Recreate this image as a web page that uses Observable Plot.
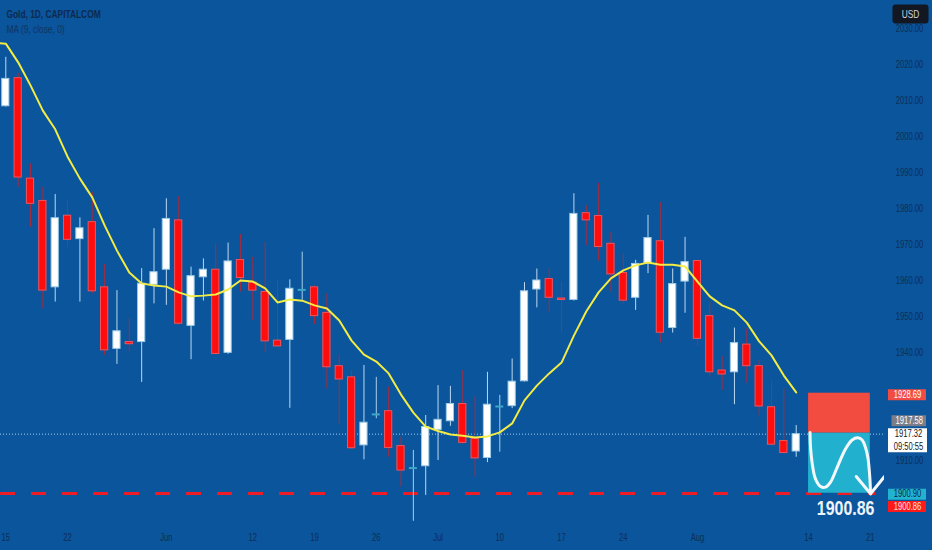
<!DOCTYPE html>
<html>
<head>
<meta charset="utf-8">
<script src="https://cdn.jsdelivr.net/npm/d3@7"></script>
<script src="https://cdn.jsdelivr.net/npm/@observablehq/plot@0.6"></script>
<style>
  html, body { margin: 0; padding: 0; background: #0a559b; }
  #chart { position: relative; width: 932px; height: 550px; background: #0a559b; overflow: hidden; }
  #chart svg { display: block; }
  #chart svg.price-scale { position: absolute; top: 0; right: 0; }
</style>
</head>
<body>
<div id="chart"></div>
<script>
// ---------------- DATA ----------------
const dates = [
  "2023-05-15","2023-05-16","2023-05-17","2023-05-18","2023-05-19",
  "2023-05-22","2023-05-23","2023-05-24","2023-05-25","2023-05-26",
  "2023-05-29","2023-05-30","2023-05-31","2023-06-01","2023-06-02",
  "2023-06-05","2023-06-06","2023-06-07","2023-06-08","2023-06-09",
  "2023-06-12","2023-06-13","2023-06-14","2023-06-15","2023-06-16",
  "2023-06-19","2023-06-20","2023-06-21","2023-06-22","2023-06-23",
  "2023-06-26","2023-06-27","2023-06-28","2023-06-29","2023-06-30",
  "2023-07-03","2023-07-04","2023-07-05","2023-07-06","2023-07-07",
  "2023-07-10","2023-07-11","2023-07-12","2023-07-13","2023-07-14",
  "2023-07-17","2023-07-18","2023-07-19","2023-07-20","2023-07-21",
  "2023-07-24","2023-07-25","2023-07-26","2023-07-27","2023-07-28",
  "2023-07-31","2023-08-01","2023-08-02","2023-08-03","2023-08-04",
  "2023-08-07","2023-08-08","2023-08-09","2023-08-10","2023-08-11"
];
const open = [
  2008.4,2016.2,1988.3,1982.1,1958.1, 1978.0,1971.5,1976.2,1958.1,1941.0,
  1942.9,1942.9,1958.8,1963.0,1976.7, 1947.4,1960.9,1963.0,1939.9,1965.7,
  1959.4,1956.8,1943.3,1943.5,1957.4, 1958.1,1951.0,1936.2,1933.1,1914.2,
  1922.8,1923.7,1914.0,1907.9,1908.4, 1918.5,1920.9,1925.7,1916.0,1910.7,
  1925.0,1925.1,1932.0,1957.5,1960.4, 1955.0,1954.6,1978.7,1977.9,1970.2,
  1962.1,1955.2,1964.8,1970.9,1946.8, 1959.7,1965.4,1950.1,1935.0,1934.5,
  1942.2,1936.2,1924.8,1915.4,1912.5
];
const high = [
  2022.0,2017.5,1992.4,1985.9,1983.9, 1982.2,1977.4,1984.5,1964.4,1957.2,
  1949.4,1963.3,1974.4,1982.7,1983.3, 1963.7,1966.0,1970.0,1970.4,1972.8,
  1966.5,1970.6,1960.0,1960.2,1967.9, 1958.5,1956.3,1939.2,1935.0,1936.4,
  1933.1,1930.4,1916.5,1912.8,1922.5, 1930.8,1930.6,1935.0,1927.6,1934.5,
  1928.1,1938.2,1959.4,1963.2,1963.2, 1959.5,1984.1,1980.8,1987.0,1973.4,
  1967.4,1965.6,1978.1,1981.7,1963.2, 1972.0,1965.6,1954.0,1938.9,1946.8,
  1946.6,1937.8,1932.0,1929.9,1919.7
];
const low = [
  2008.2,1985.9,1974.8,1952.1,1954.0, 1969.1,1954.0,1956.3,1939.2,1936.7,
  1940.1,1931.7,1953.5,1953.1,1947.6, 1938.0,1954.3,1939.3,1939.5,1956.8,
  1948.9,1940.1,1941.5,1924.5,1954.5, 1947.8,1929.9,1919.9,1913.0,1910.2,
  1921.6,1910.9,1902.6,1893.1,1900.3, 1910.0,1919.5,1914.5,1905.4,1909.4,
  1912.3,1924.4,1931.8,1952.4,1951.2, 1945.6,1954.3,1969.7,1965.4,1956.8,
  1953.5,1951.7,1961.9,1942.6,1945.4, 1950.9,1941.7,1933.1,1929.4,1925.5,
  1931.5,1922.5,1914.0,1911.8,1910.9
];
const close = [
  2016.0,1988.6,1981.3,1957.2,1977.3, 1971.3,1974.5,1957.0,1940.6,1945.9,
  1942.3,1959.1,1962.3,1977.1,1948.0, 1961.2,1963.0,1939.6,1965.3,1960.7,
  1957.2,1943.1,1941.7,1957.7,1957.4, 1950.1,1935.9,1932.5,1913.4,1920.5,
  1922.8,1913.5,1907.2,1907.9,1919.3, 1921.3,1925.7,1914.9,1910.6,1925.5,
  1925.0,1931.9,1957.0,1960.0,1955.2, 1954.6,1978.5,1976.7,1969.3,1961.7,
  1954.4,1964.6,1971.8,1945.5,1959.0, 1965.1,1943.8,1934.5,1933.9,1942.6,
  1936.2,1925.0,1914.4,1912.1,1917.32
];
// MA(9, close); first value belongs to 2023-05-12 (bar before the first visible one)
const maValues = [
  2026.0,
  2025.8,2020.6,2014.2,2007.2,2002.0, 1994.4,1988.3,1983.1,1975.3,1968.3,
  1962.2,1959.2,1958.6,1958.3,1956.7, 1955.6,1955.8,1956.1,1957.5,1960.0,
  1959.7,1957.8,1953.9,1954.7,1954.4, 1953.1,1952.2,1948.9,1943.3,1939.4,
  1937.5,1934.2,1928.3,1923.3,1919.4, 1918.2,1917.2,1916.9,1916.4,1916.7,
  1917.8,1920.3,1926.7,1930.8,1934.2, 1937.2,1944.7,1951.4,1956.7,1960.6,
  1962.8,1964.2,1965.0,1964.4,1964.4, 1963.9,1959.7,1955.6,1953.1,1951.7,
  1948.3,1943.1,1939.2,1933.6,1928.9
];
// x-axis tick labels (bar number counted in trading days from 2023-05-15)
const xTickBars   = [0, 5, 13, 20, 25, 30, 35, 40, 45, 50, 56, 65, 70];
const xTickLabels = ["15","22","Jun","12","19","26","Jul","10","17","24","Aug","14","21"];
// y-axis tick labels that stay visible (1900, 1920, 1930 sit under the price badges)
const yTicks = [1910,1940,1950,1960,1970,1980,1990,2000,2010,2020,2030];

// price levels
const lastPrice = 1917.32;
const lastCountdown = "09:50:55";
const posEntry = 1917.58, posStop = 1928.69, posTarget = 1900.90;
const posStartBar = 65, posEndBar = 70;           // Aug 14 -> Aug 21
const supportLevel = 1900.86;
const supportFromBar = -5, supportToBar = 70.45;
// hand-drawn projection sketch (bar, price)
const sketchBars   = [65.12,65.16,65.30,65.56,65.97,66.37,66.78,67.32,67.99,68.53,68.99,69.34,69.61,69.80,69.96,70.02];
const sketchPrices = [1917.8,1913.7,1909.1,1904.9,1902.8,1902.6,1904.0,1908.1,1913.2,1915.7,1916.3,1915.7,1913.6,1910.9,1905.4,1900.75];
const arrowBars   = [68.86, 70.02, 71.15];
const arrowPrices = [1905.56, 1900.75, 1905.56];
const noteBar = 68.0;
// price-scale badges
const badgePrices = [posStop, posEntry, posTarget, supportLevel];
const titleText = "Gold, 1D, CAPITALCOM";
const maText = "MA (9, close, 0)";
const currencyText = "USD";

// ---------------- STYLE ----------------
const BG = "#0a559b";
const FONT = "'Liberation Sans',Arial,sans-serif";
const SQUEEZE = 0.76;   // the reference's type is narrow
const LABEL = "#0f2d57";
const W = 932, H = 550, AXIS_W = 48;
const yDomain = [1885, 2037.78];
const xDomain = [-0.43, 71.15];
const badgeStyle = [
  {fill: "#f14b43", text: "#ffffff", dy: 1.5, inL: 4, inR: 6},
  {fill: "#7b7e88", text: "#ffffff", dy: -12.4, inL: 7.5, inR: 6},
  {fill: "#22b3d1", text: "#0d2745", dy: 1, inL: 4, inR: 6},
  {fill: "#ff1a1a", text: "#ffe4e4", dy: 13, inL: 4, inR: 6}
];

const bars = d3.range(dates.length);
const dir = i => close[i] > open[i] ? "up" : close[i] < open[i] ? "down" : "flat";
const bodyFill   = {up: "#ffffff", down: "#ff0c0c"};
const bodyStroke = {up: "#9ccbe6", down: "#ef5560"};
const wickColor  = {up: "#bcd9f1", down: "#a32c40", flat: "#a8cfea"};
const bodyBars = bars.filter(i => dir(i) !== "flat");
const dojiBars = bars.filter(i => dir(i) === "flat");

const maPts = maValues.map((v, k) => ({bar: k - 1, v}));
const sketchPts = sketchBars.map((b, k) => ({bar: b, p: sketchPrices[k]}));
const arrowPts = arrowBars.map((b, k) => ({bar: b, p: arrowPrices[k]}));
const posBoxes = [
  {y1: posEntry, y2: posStop, fill: "#f24b40"},
  {y1: posTarget, y2: posEntry, fill: "#21b0ce"}
];

const main = Plot.plot({
  width: W, height: H,
  marginTop: 0, marginRight: AXIS_W, marginBottom: 0, marginLeft: 0,
  x: {domain: xDomain, axis: null},
  y: {domain: yDomain, axis: null},
  color: {type: "identity"},
  style: {background: BG, fontFamily: FONT, overflow: "hidden"},
  marks: [
    Plot.ruleY([supportLevel], {y: d => d, x1: () => supportFromBar, x2: () => supportToBar,
      stroke: "#ee1c25", strokeWidth: 3, strokeDasharray: "15,16", strokeDashoffset: 5.5, clip: true}),
    Plot.ruleY([lastPrice], {y: d => d, stroke: "#a6cdef", strokeWidth: 1, strokeDasharray: "1,2"}),
    Plot.rect(posBoxes, {x1: () => posStartBar, x2: () => posEndBar, y1: "y1", y2: "y2", fill: "fill"}),
    Plot.ruleX(bars, {x: i => i, y1: i => low[i], y2: i => high[i], stroke: i => wickColor[dir(i)], strokeWidth: 1}),
    Plot.rect(bodyBars, {x1: i => i, x2: i => i, y1: i => open[i], y2: i => close[i],
      insetLeft: -3.6, insetRight: -3.6,
      fill: i => bodyFill[dir(i)], stroke: i => bodyStroke[dir(i)], strokeWidth: 1}),
    Plot.ruleY(dojiBars, {y: i => open[i], x1: i => i, x2: i => i, insetLeft: -4, insetRight: -4,
      stroke: "#3ea8c9", strokeWidth: 2}),
    Plot.line(maPts, {x: "bar", y: "v", stroke: "#f3ec45", strokeWidth: 2, clip: true}),
    Plot.line(sketchPts, {x: "bar", y: "p", stroke: "#f4f8fb", strokeWidth: 3, curve: "catmull-rom",
      strokeLinecap: "round"}),
    Plot.line(arrowPts, {x: "bar", y: "p", stroke: "#f4f8fb", strokeWidth: 3, strokeLinecap: "round",
      strokeLinejoin: "round"}),
    Plot.text([supportLevel], {x: () => noteBar, y: d => d, text: d => d.toFixed(2), dy: 15,
      fontSize: 21, fontWeight: "bold", fill: "#eef4fa"}),
    Plot.text([titleText], {text: d => d, frameAnchor: "top-left", textAnchor: "start", lineAnchor: "middle",
      dx: 6, dy: 14, fontSize: 11, fontWeight: "bold", fill: "#0d2a50"}),
    Plot.text([maText], {text: d => d, frameAnchor: "top-left", textAnchor: "start", lineAnchor: "middle",
      dx: 6, dy: 28.5, fontSize: 11, fill: "#12345f"}),
    Plot.text(xTickBars, {x: d => d, text: (d, i) => xTickLabels[i], frameAnchor: "bottom",
      lineAnchor: "middle", dy: -13, fontSize: 10, fill: LABEL})
  ]
});

const axisMarks = [
  Plot.text(yTicks, {y: d => d, text: d => d.toFixed(2), fontSize: 10, fill: LABEL, dx: 1}),
  Plot.frame({fill: "#131722", stroke: "none", insetTop: 4, insetBottom: 527, insetLeft: 8, insetRight: 4, rx: 3}),
  Plot.text([currencyText], {text: d => d, frameAnchor: "top", lineAnchor: "middle", dy: 13.5, dx: 2,
    fontSize: 11, fill: "#d1d4dc"})
];
badgePrices.forEach((p, k) => {
  const s = badgeStyle[k];
  axisMarks.push(Plot.ruleY([p], {y: d => d, dy: s.dy, stroke: s.fill, strokeWidth: 11,
    insetLeft: s.inL, insetRight: s.inR}));
  axisMarks.push(Plot.text([p], {y: d => d, dy: s.dy, text: d => d.toFixed(2), fontSize: 10,
    fill: s.text, dx: (s.inL - s.inR) / 2}));
});
axisMarks.push(Plot.ruleY([lastPrice], {y: d => d, dy: 6, stroke: "#ffffff", strokeWidth: 24,
  insetLeft: 4, insetRight: 5}));
axisMarks.push(Plot.text([lastPrice], {y: d => d, text: d => d.toFixed(2), fontSize: 10, fill: "#131722"}));
axisMarks.push(Plot.text([lastPrice], {y: d => d, dy: 12.5, text: () => lastCountdown, fontSize: 10, fill: "#131722"}));

const axis = Plot.plot({
  className: "price-scale",
  width: AXIS_W, height: H,
  marginTop: 0, marginRight: 0, marginBottom: 0, marginLeft: 0,
  y: {domain: yDomain, axis: null},
  color: {type: "identity"},
  style: {background: BG, fontFamily: FONT},
  marks: axisMarks
});
axis.classList.add("price-scale");

const root = document.getElementById("chart");
root.appendChild(main);
root.appendChild(axis);

// narrow the lettering to the condensed look of the original
for (const t of root.querySelectorAll("text")) {
  const w = t.getComputedTextLength();
  if (w > 0) {
    t.setAttribute("textLength", (w * SQUEEZE).toFixed(2));
    t.setAttribute("lengthAdjust", "spacingAndGlyphs");
  }
}
</script>
</body>
</html>
